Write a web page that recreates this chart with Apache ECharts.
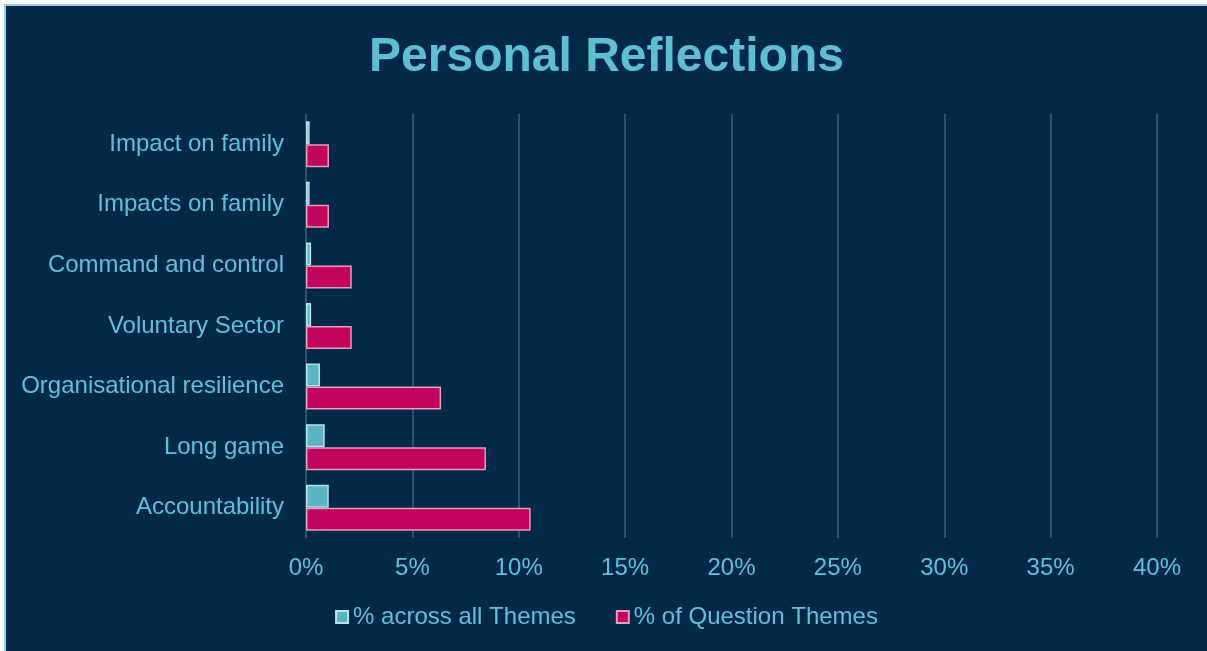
<!DOCTYPE html>
<html>
<head>
<meta charset="utf-8">
<script src="https://cdn.jsdelivr.net/npm/echarts@6/dist/echarts.min.js"></script>
<style>
  html, body { margin: 0; padding: 0; background: #ffffff; overflow: hidden; }
  .frame {
    position: absolute;
    left: 4px;
    top: 4px;
    border-left: 2px solid #9bd0ec;
    border-top: 2px solid #9bd0ec;
  }
  .chart { width: 1201px; height: 645px; background: #022a48; }
</style>
</head>
<body>
<div class="frame"><div id="chartRef" class="chart"></div></div>
<script>
const categories = [
  "Impact on family",
  "Impacts on family",
  "Command and control",
  "Voluntary Sector",
  "Organisational resilience",
  "Long game",
  "Accountability",
];
const acrossAllThemes = [0.17, 0.17, 0.24, 0.24, 0.66, 0.88, 1.07];
const ofQuestionThemes = [1.08, 1.08, 2.15, 2.15, 6.35, 8.46, 10.56];
const xTicks = { min: 0, max: 40, interval: 5 };

const textColor = "#62c0d2";
const font = "'Liberation Sans', Arial, sans-serif";

const chart = echarts.init(document.getElementById("chartRef"));

chart.setOption({
  animation: false,
  title: {
    text: "Personal Reflections",
    left: "center",
    top: 23,
    textStyle: { color: "#5fbfd0", fontSize: 48, fontWeight: "bold", fontFamily: font },
  },
  grid: { left: 300, right: 50, top: 108, bottom: 113, containLabel: false },
  legend: {
    top: 594,
    left: "center",
    itemWidth: 12,
    itemHeight: 12,
    itemGap: 40,
    icon: "rect",
    textStyle: { color: textColor, fontSize: 24, fontFamily: font },
    data: ["% across all Themes", "% of Question Themes"],
  },
  xAxis: {
    type: "value",
    min: xTicks.min,
    max: xTicks.max,
    interval: xTicks.interval,
    axisLine: { show: false },
    axisTick: { show: false },
    axisLabel: {
      color: textColor,
      fontSize: 24,
      fontFamily: font,
      margin: 18,
      formatter: (v) => `${v}%`,
    },
    splitLine: { show: true, lineStyle: { color: "rgba(140, 175, 200, 0.4)", width: 1.5 } },
  },
  yAxis: {
    type: "category",
    inverse: true,
    data: categories,
    axisLine: { show: false },
    axisTick: { show: false },
    axisLabel: { color: textColor, fontSize: 24, fontFamily: font, margin: 22 },
  },
  series: [
    {
      name: "% across all Themes",
      type: "bar",
      data: acrossAllThemes,
      barWidth: 23,
      barGap: "0%",
      itemStyle: { color: "#5bb3c3", borderColor: "#b9e2ea", borderWidth: 1.5 },
    },
    {
      name: "% of Question Themes",
      type: "bar",
      data: ofQuestionThemes,
      barWidth: 23,
      barGap: "0%",
      itemStyle: { color: "#c2045a", borderColor: "#e0a0c0", borderWidth: 1.5 },
    },
  ],
});
</script>
</body>
</html>
